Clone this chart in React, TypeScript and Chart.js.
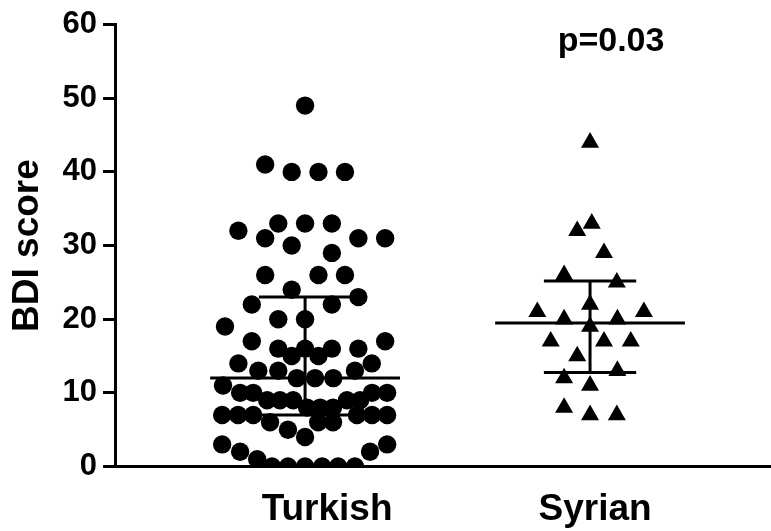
import React, { useEffect, useRef } from 'react';
import { Chart, registerables } from 'chart.js';

Chart.register(...registerables);

// ---- data ----
const categories = ['Turkish', 'Syrian'];

const turkishScores = [
  49, 41, 40, 40, 40, 33, 33, 33, 32, 31, 31, 31, 30, 29, 26, 26, 26, 24, 23, 22, 22, 20, 20, 19,
  17, 17, 16, 16, 16, 16, 15, 15, 14, 14, 13, 13, 13, 12, 12, 12, 11, 10, 10, 10, 10, 9, 9, 9, 9, 9,
  8, 8, 8, 7, 7, 7, 7, 7, 7, 6, 6, 6, 5, 4, 3, 3, 2, 2, 1, 0, 0, 0, 0, 0, 0,
];
// horizontal scatter offsets (category units) of each Turkish dot
const turkishJitter = [
  0, -0.14, -0.047, 0.047, 0.14, -0.094, 0, 0.094, -0.234, -0.14, 0.187, 0.281, -0.047, 0.094, -0.14, 0.047, 0.14, -0.047, 0.187, -0.187, 0.094, -0.094, 0, -0.281,
  -0.187, 0.281, -0.094, 0, 0.094, 0.187, -0.047, 0.047, -0.234, 0.234, -0.164, -0.094, 0.175, -0.029, 0.035, 0.099, -0.288, -0.228, -0.182, 0.235, 0.288, -0.133, -0.088, -0.042, 0.147, 0.193,
  0.007, 0.053, 0.098, -0.291, -0.235, -0.182, 0.182, 0.235, 0.288, -0.123, 0.046, 0.098, -0.06, 0, -0.291, 0.288, -0.228, 0.228, -0.168, -0.116, -0.06, 0, 0.06, 0.116, 0.175,
];

const syrianScores = [44, 33, 32, 29, 26, 25, 22, 21, 20, 20, 21, 19, 17, 17, 17, 15, 13, 12, 11, 8, 7, 7];
const syrianJitter = [0, 0.006, -0.045, 0.049, -0.091, 0.094, 0, -0.185, -0.091, 0.096, 0.189, 0, -0.138, 0.049, 0.143, -0.045, 0.096, -0.091, 0, -0.091, 0, 0.094];

const medians = [12, 19.5];
const lowerQuartiles = [7, 12.75];
const upperQuartiles = [23, 25.2];

const yTickValues = [0, 10, 20, 30, 40, 50, 60];
const yAxisTitle = 'BDI score';
const pValueText = 'p=0.03';

const FONT = '"Liberation Sans", Arial, Helvetica, sans-serif';

const overlayPlugin = {
  id: 'overlay',
  afterDatasetsDraw(chart: any) {
    const { ctx } = chart;
    const xs = chart.scales.x;
    const ys = chart.scales.y;
    ctx.save();
    ctx.strokeStyle = '#000';
    ctx.lineWidth = 3;
    ctx.lineCap = 'butt';
    categories.forEach((_, i) => {
      const c = i + 1;
      const med = ys.getPixelForValue(medians[i]);
      const lo = ys.getPixelForValue(lowerQuartiles[i]);
      const hi = ys.getPixelForValue(upperQuartiles[i]);
      const cx = xs.getPixelForValue(c);
      const mL = xs.getPixelForValue(c - 0.333);
      const mR = xs.getPixelForValue(c + 0.333);
      const eL = xs.getPixelForValue(c - 0.162);
      const eR = xs.getPixelForValue(c + 0.162);
      ctx.beginPath();
      ctx.moveTo(mL, med); ctx.lineTo(mR, med);
      ctx.moveTo(eL, lo); ctx.lineTo(eR, lo);
      ctx.moveTo(eL, hi); ctx.lineTo(eR, hi);
      ctx.moveTo(cx, lo); ctx.lineTo(cx, hi);
      ctx.stroke();
    });
    ctx.restore();
  },
  afterDraw(chart: any) {
    const { ctx } = chart;
    const xs = chart.scales.x;
    const labelShift = [22, 5];
    ctx.save();
    ctx.fillStyle = '#000';
    ctx.textAlign = 'center';
    ctx.textBaseline = 'alphabetic';
    ctx.font = `bold 37px ${FONT}`;
    categories.forEach((name, i) => {
      ctx.fillText(name, xs.getPixelForValue(i + 1) + labelShift[i], 520);
    });
    ctx.font = `bold 34px ${FONT}`;
    ctx.fillText(pValueText, xs.getPixelForValue(2) + 21, chart.chartArea.top + 26);
    ctx.restore();
  },
};

export default function App() {
  const canvasRef = useRef<HTMLCanvasElement | null>(null);

  useEffect(() => {
    document.body.style.margin = '0';
    document.body.style.overflow = 'hidden';
    const canvas = canvasRef.current;
    if (!canvas) return;
    const chart = new Chart(canvas, {
      type: 'scatter',
      data: {
        datasets: [
          {
            label: categories[0],
            data: turkishScores.map((v, i) => ({ x: 1 + turkishJitter[i], y: v })),
            pointStyle: 'circle',
            pointRadius: 9.2,
            pointHoverRadius: 9.2,
            pointBackgroundColor: '#000',
            pointBorderColor: '#000',
            pointBorderWidth: 0,
          },
          {
            label: categories[1],
            data: syrianScores.map((v, i) => ({ x: 2 + syrianJitter[i], y: v })),
            pointStyle: 'triangle',
            pointRadius: 10.4,
            pointHoverRadius: 10.4,
            pointBackgroundColor: '#000',
            pointBorderColor: '#000',
            pointBorderWidth: 0,
          },
        ],
      },
      options: {
        animation: false,
        responsive: true,
        maintainAspectRatio: false,
        layout: { autoPadding: false, padding: { top: 23.5, right: 0, left: 0, bottom: 0 } },
        plugins: {
          legend: { display: false },
          tooltip: { enabled: false },
          title: { display: false },
        },
        scales: {
          x: {
            type: 'linear',
            min: 0.333,
            max: 2.635,
            grid: { display: false },
            border: { display: true, color: '#000', width: 3 },
            ticks: { display: false },
            afterFit: (s: any) => { s.height = 64.5; },
          },
          y: {
            min: 0,
            max: 60,
            afterBuildTicks: (s: any) => { s.ticks = yTickValues.map((v) => ({ value: v })); },
            ticks: {
              color: '#000',
              padding: 6,
              font: { family: FONT, weight: 'bold', size: 31 },
            },
            grid: {
              display: true,
              drawOnChartArea: false,
              drawTicks: true,
              tickLength: 12,
              color: '#000',
              lineWidth: 3,
            },
            border: { display: true, color: '#000', width: 3 },
            title: {
              display: true,
              text: yAxisTitle,
              color: '#000',
              font: { family: FONT, weight: 'bold', size: 37 },
              padding: { top: 6, bottom: 0 },
            },
            afterFit: (s: any) => { s.width = 115; },
          },
        },
      },
      plugins: [overlayPlugin],
    });
    return () => chart.destroy();
  }, []);

  return (
    <div style={{ position: 'absolute', left: 0, top: 0, width: 771, height: 531, overflow: 'hidden', background: '#fff' }}>
      <canvas ref={canvasRef} style={{ display: 'block' }} />
    </div>
  );
}
